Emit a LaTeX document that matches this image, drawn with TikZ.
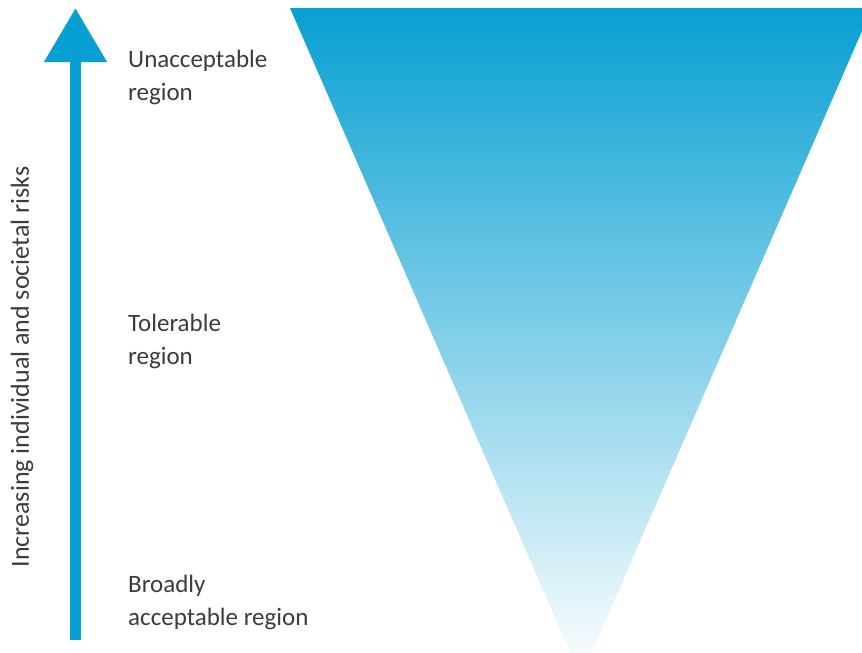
\documentclass[tikz,border=0pt]{standalone}
\usepackage{fontspec}
\setmainfont{Carlito}
\usepackage{xcolor}
\usepackage{tikz}
\usetikzlibrary{positioning,arrows.meta}
\definecolor{rblue}{HTML}{08A0D2}
\definecolor{rtext}{HTML}{3C3C3C}
\tikzset{
 lbl/.style={anchor=north west, align=left, text=rtext, inner sep=0pt,
 font=\fontsize{25}{33}\selectfont},
 riskarrow/.style={-{Triangle[width=60pt,length=54pt]}, draw=rblue,
 fill=rblue, line width=11pt},
}
\begin{document}
\begin{tikzpicture}[x=1pt,y=-1pt]
 % frame
 \fill[white] (0,0) rectangle (862,653);
 \useasboundingbox (0,0) rectangle (862,653);
 % funnel
 \coordinate (TL) at (290,8);
 \coordinate (TR) at (872,8);
 \coordinate (AP) at (581,677);
 \begin{scope}
 \clip (0,0) rectangle (862,653);
 \shade[top color=rblue, bottom color=white] (TL) -- (TR) -- (AP) -- cycle;
 \end{scope}
 % risk arrow
 \coordinate (base) at (75.5,640);
 \coordinate (tip) at (75.5,8);
 \draw[riskarrow] (base) -- (tip);
 \node[lbl, rotate=90, anchor=center, font=\fontsize{26}{30}\selectfont]
 (axis) at (22,367) {Increasing individual and societal risks};
 % regions
 \node[lbl] (U) at (128,50) {Unacceptable\\region};
 \node[lbl] (T) at (128,314) {Tolerable\\region};
 \node[lbl] (B) at (128,575) {Broadly\\acceptable region};
\end{tikzpicture}
\end{document}
